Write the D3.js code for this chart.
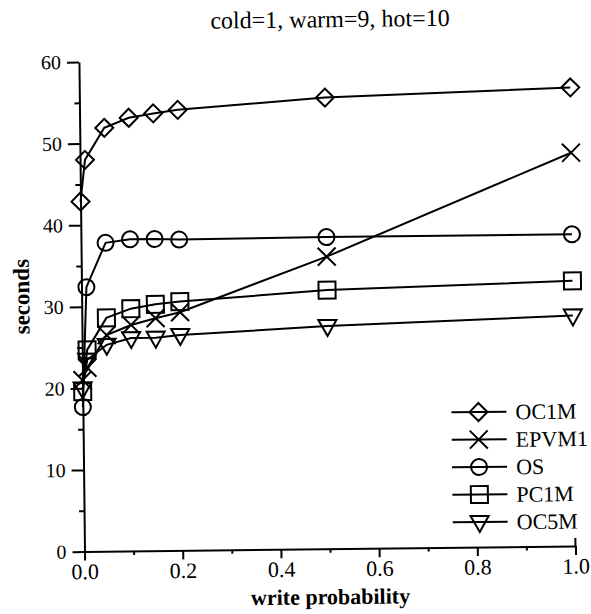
<!DOCTYPE html>
<html>
<head>
<meta charset="utf-8">
<script src="https://cdn.jsdelivr.net/npm/d3@7"></script>
<style>
  body { margin: 0; background: #fff; }
  svg, svg text { font-family: "Liberation Serif", "Times New Roman", serif; }
  .axis path, .axis line { stroke: #000; stroke-width: 2px; }
  .axis text { fill: #000; }
</style>
</head>
<body>
<script>
(function(){

    //data
    var writeProb = [0, 0.01, 0.05, 0.1, 0.15, 0.2, 0.5, 1.0];
    var seriesNames = ["OC1M", "EPVM1", "OS", "PC1M", "OC5M"];
    var oc1m  = [42.9, 48.0, 51.9, 53.1, 53.6, 54.0, 55.3, 56.2];
    var epvm1 = [21.0, 22.5, 26.5, 27.7, 28.5, 29.2, 35.8, 48.2];
    var os    = [17.7, 32.4, 37.8, 38.2, 38.2, 38.1, 38.2, 38.2];
    var pc1m  = [19.6, 24.7, 28.6, 29.7, 30.2, 30.5, 31.7, 32.5];
    var oc5m  = [20.0, 23.5, 25.3, 26.1, 26.1, 26.4, 27.3, 28.25];
    var xTicks = [0, 0.2, 0.4, 0.6, 0.8, 1.0];
    var xMinor = [0.1, 0.3, 0.5, 0.7, 0.9];
    var yTicks = [0, 10, 20, 30, 40, 50, 60];
    var yMinor = [5, 15, 25, 35, 45, 55];

    var seriesValues = [oc1m, epvm1, os, pc1m, oc5m];
    var shapes = ["diamond", "cross", "circle", "square", "triangle"];

    var width = 591, height = 614;
    var serif = "'Liberation Serif', 'Times New Roman', serif";

    var svg = d3.select("body")
        .append("svg")
        .attr("width", width)
        .attr("height", height);

    //the scanned page is tilted a little, so tilt everything
    var page = svg.append("g")
        .attr("transform", "rotate(-0.65, 84.5, 551.5)");

    var x = d3.scaleLinear().domain([0, 1]).range([84.5, 575.5]);
    var y = d3.scaleLinear().domain([0, 60]).range([551.5, 62]);

    //title
    page.append("text")
        .attr("x", 336)
        .attr("y", 30)
        .attr("text-anchor", "middle")
        .style("font-family", serif)
        .style("font-size", "24px")
        .text("cold=1, warm=9, hot=10");

    //x axis, major and minor ticks
    page.append("g")
        .attr("class", "axis")
        .attr("transform", "translate(0," + y(0) + ")")
        .call(d3.axisBottom(x)
            .tickValues(xTicks)
            .tickFormat(d3.format(".1f"))
            .tickSize(9)
            .tickSizeOuter(0)
            .tickPadding(3))
        .attr("font-family", null)
        .selectAll("text")
        .style("font-family", serif)
        .style("font-size", "22px");

    page.append("g")
        .attr("class", "axis")
        .attr("transform", "translate(0," + y(0) + ")")
        .call(d3.axisBottom(x)
            .tickValues(xMinor)
            .tickFormat("")
            .tickSize(4)
            .tickSizeOuter(0))
        .select(".domain").remove();

    //little cap at the right end of the x axis
    page.append("line")
        .attr("x1", x(1)).attr("x2", x(1))
        .attr("y1", y(0)).attr("y2", y(0) - 8)
        .attr("stroke", "#000")
        .attr("stroke-width", 2);

    //y axis
    page.append("g")
        .attr("class", "axis")
        .attr("transform", "translate(" + x(0) + ",0)")
        .call(d3.axisLeft(y)
            .tickValues(yTicks)
            .tickSize(12)
            .tickSizeOuter(0)
            .tickPadding(6))
        .attr("font-family", null)
        .selectAll("text")
        .style("font-family", serif)
        .style("font-size", "20px");

    page.append("g")
        .attr("class", "axis")
        .attr("transform", "translate(" + x(0) + ",0)")
        .call(d3.axisLeft(y)
            .tickValues(yMinor)
            .tickFormat("")
            .tickSize(5)
            .tickSizeOuter(0))
        .select(".domain").remove();

    //axis titles
    page.append("text")
        .attr("x", x(0.5))
        .attr("y", 607)
        .attr("text-anchor", "middle")
        .style("font-family", serif)
        .style("font-size", "22px")
        .style("font-weight", "bold")
        .text("write probability");

    page.append("text")
        .attr("transform", "translate(24," + 296 + ") rotate(-90)")
        .attr("text-anchor", "middle")
        .attr("dy", "0.35em")
        .style("font-family", serif)
        .style("font-size", "23px")
        .style("font-weight", "bold")
        .text("seconds");

    //marker drawing, all hollow
    function drawMarker(g, shape, cx, cy){
        var s = 9;
        var p;
        if (shape == "diamond") {
            p = "M" + cx + "," + (cy - s) + "L" + (cx + s) + "," + cy +
                "L" + cx + "," + (cy + s) + "L" + (cx - s) + "," + cy + "Z";
        } else if (shape == "square") {
            p = "M" + (cx - 8.5) + "," + (cy - 8.5) + "h17v17h-17Z";
        } else if (shape == "triangle") {
            p = "M" + (cx - 9) + "," + (cy - 6) + "L" + (cx + 9) + "," + (cy - 6) +
                "L" + cx + "," + (cy + 10) + "Z";
        } else if (shape == "cross") {
            p = "M" + (cx - s) + "," + (cy - s) + "L" + (cx + s) + "," + (cy + s) +
                "M" + (cx + s) + "," + (cy - s) + "L" + (cx - s) + "," + (cy + s);
        }
        if (shape == "circle") {
            g.append("circle")
                .attr("cx", cx).attr("cy", cy).attr("r", 8)
                .attr("fill", "none").attr("stroke", "#000").attr("stroke-width", 2);
        } else {
            g.append("path")
                .attr("d", p)
                .attr("fill", "none").attr("stroke", "#000").attr("stroke-width", 2);
        }
    };

    var line = d3.line()
        .x(function(d, i){ return x(writeProb[i]); })
        .y(function(d){ return y(d); });

    //series lines and markers
    seriesValues.forEach(function(vals, k){
        var g = page.append("g").attr("class", "series " + seriesNames[k]);
        g.append("path")
            .datum(vals)
            .attr("d", line)
            .attr("fill", "none")
            .attr("stroke", "#000")
            .attr("stroke-width", 2);
        vals.forEach(function(v, i){
            drawMarker(g, shapes[k], x(writeProb[i]), y(v));
        });
    });

    //legend
    var legend = page.append("g").attr("class", "legend");
    seriesNames.forEach(function(name, k){
        var ly = 416.5 + k * 27.5;
        legend.append("line")
            .attr("x1", 453).attr("x2", 508)
            .attr("y1", ly).attr("y2", ly)
            .attr("stroke", "#000").attr("stroke-width", 2);
        drawMarker(legend, shapes[k], 480, ly);
        legend.append("text")
            .attr("x", 517)
            .attr("y", ly)
            .attr("dy", "0.35em")
            .style("font-family", serif)
            .style("font-size", "22px")
            .text(name);
    });

})();
</script>
</body>
</html>
